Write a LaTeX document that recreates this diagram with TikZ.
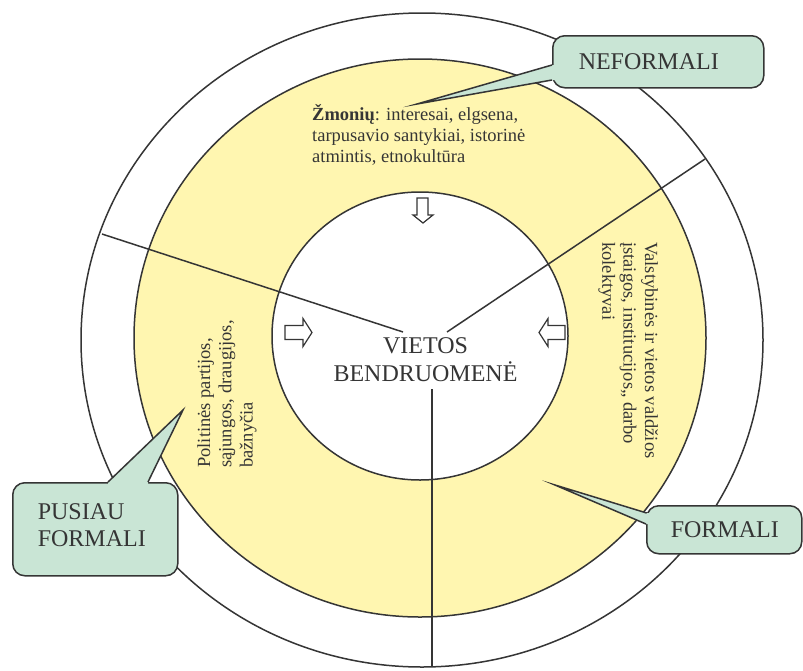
\documentclass[tikz,border=0pt]{standalone}
\usepackage{fontspec}
\setmainfont{Liberation Serif}
\usetikzlibrary{calc}
\definecolor{ink}{HTML}{353535}
\definecolor{ringyellow}{HTML}{FFF6B0}
\definecolor{callgreen}{HTML}{C9E5D5}
\begin{document}
\begin{tikzpicture}[x=1pt,y=-1pt,
  ring/.style={draw=ink, line width=1.5pt},
  divider/.style={draw=ink, line width=1.5pt},
  blockarrow/.style={draw=ink, fill=white, line width=1.2pt, line join=miter},
  callbox/.style={draw=ink, fill=callgreen, line width=1.5pt, rounded corners=12pt,
    text=ink, font=\fontsize{24}{27}\selectfont, inner ysep=0pt},
  wedgefill/.style={fill=callgreen},
  wedgeline/.style={draw=ink, line width=1.5pt, line join=miter, miter limit=20},
  smalltext/.style={text=ink, font=\fontsize{18.5}{21.3}\selectfont, inner sep=0pt},
  bigtext/.style={text=ink, font=\fontsize{24}{27.8}\selectfont, inner sep=0pt}]
\useasboundingbox (0,0) rectangle (803,670);

% rings
\draw[ring, fill=white] (422,340) ellipse [x radius=341pt, y radius=327pt];
\draw[ring, fill=ringyellow] (420,338) ellipse [x radius=286pt, y radius=279pt];
\draw[ring, fill=white] (420,336) ellipse [x radius=148pt, y radius=144pt];

% dividers
\coordinate (l1a) at (102,234);
\coordinate (l1b) at (403,332);
\coordinate (l2a) at (705,159);
\coordinate (l2b) at (447,332);
\coordinate (l3a) at (432,389);
\coordinate (l3b) at (432,667);
\draw[divider] (l1a) -- (l1b);
\draw[divider] (l2a) -- (l2b);
\draw[divider] (l3a) -- (l3b);

% block arrows
\draw[blockarrow] (417,198) -- (428,198) -- (428,215) -- (433,215) -- (423,223) -- (413,215) -- (417,215) -- cycle;
\draw[blockarrow] (285,325.5) -- (303,325.5) -- (303,318.5) -- (312,332.5) -- (303,346.5) -- (303,339.5) -- (285,339.5) -- cycle;
\draw[blockarrow] (565,325.5) -- (548,325.5) -- (548,318.5) -- (539,332.5) -- (548,346.5) -- (548,339.5) -- (565,339.5) -- cycle;

% texts
\node[smalltext, anchor=base west] (people) at (312,120)
  {\begin{tabular}[t]{@{}l@{}}\textbf{Žmonių}: interesai, elgsena,\\ tarpusavio santykiai, istorinė\\ atmintis, etnokultūra\end{tabular}};
\node[bigtext, anchor=base] (community) at (425.5,353)
  {\begin{tabular}[t]{@{}c@{}}VIETOS\\ BENDRUOMENĖ\end{tabular}};
\node[smalltext, rotate=90, anchor=base west] (semi) at (210,468)
  {\begin{tabular}[t]{@{}l@{}}Politinės partijos,\\ sąjungos, draugijos,\\ bažnyčia\end{tabular}};
\node[smalltext, rotate=-90, anchor=base west] (formal) at (645,242)
  {\begin{tabular}[t]{@{}l@{}}Valstybinės ir vietos valdžios\\ įstaigos, institucijos,, darbo\\ kolektyvai\end{tabular}};

% callouts
\node[callbox, anchor=north west, minimum height=52pt, text width=159pt, inner xsep=26pt, align=left] (nef) at (552,35) {NEFORMALI};
\coordinate (neftip) at (417,104);
\fill[wedgefill] (neftip) -- (552,65) -- (557,65) -- (557,80) -- (552,80) -- cycle;
\draw[wedgeline] (552,65) -- (neftip) -- (552,80);

\node[callbox, anchor=north west, minimum height=48pt, text width=107pt, inner xsep=24pt, align=left] (fml) at (646,505) {FORMALI};
\coordinate (fmltip) at (555,485);
\fill[wedgefill] (fmltip) -- (646.7,513) -- (652,513) -- (652,524) -- (646,524) -- cycle;
\draw[wedgeline] (646.7,513) -- (fmltip) -- (646,524);

\node[callbox, anchor=north west, minimum height=93pt, text width=115pt, inner xsep=25pt] (semibox) at (12,482)
  {\begin{tabular}[t]{@{}l@{}}PUSIAU\\ FORMALI\rule[-11pt]{0pt}{11pt}\end{tabular}};
\coordinate (semitip) at (183,410);
\fill[wedgefill] (semitip) -- (108,482) -- (108,487) -- (148,487) -- (148,482) -- cycle;
\draw[wedgeline] (108,482) -- (semitip) -- (148,482);
\end{tikzpicture}
\end{document}
